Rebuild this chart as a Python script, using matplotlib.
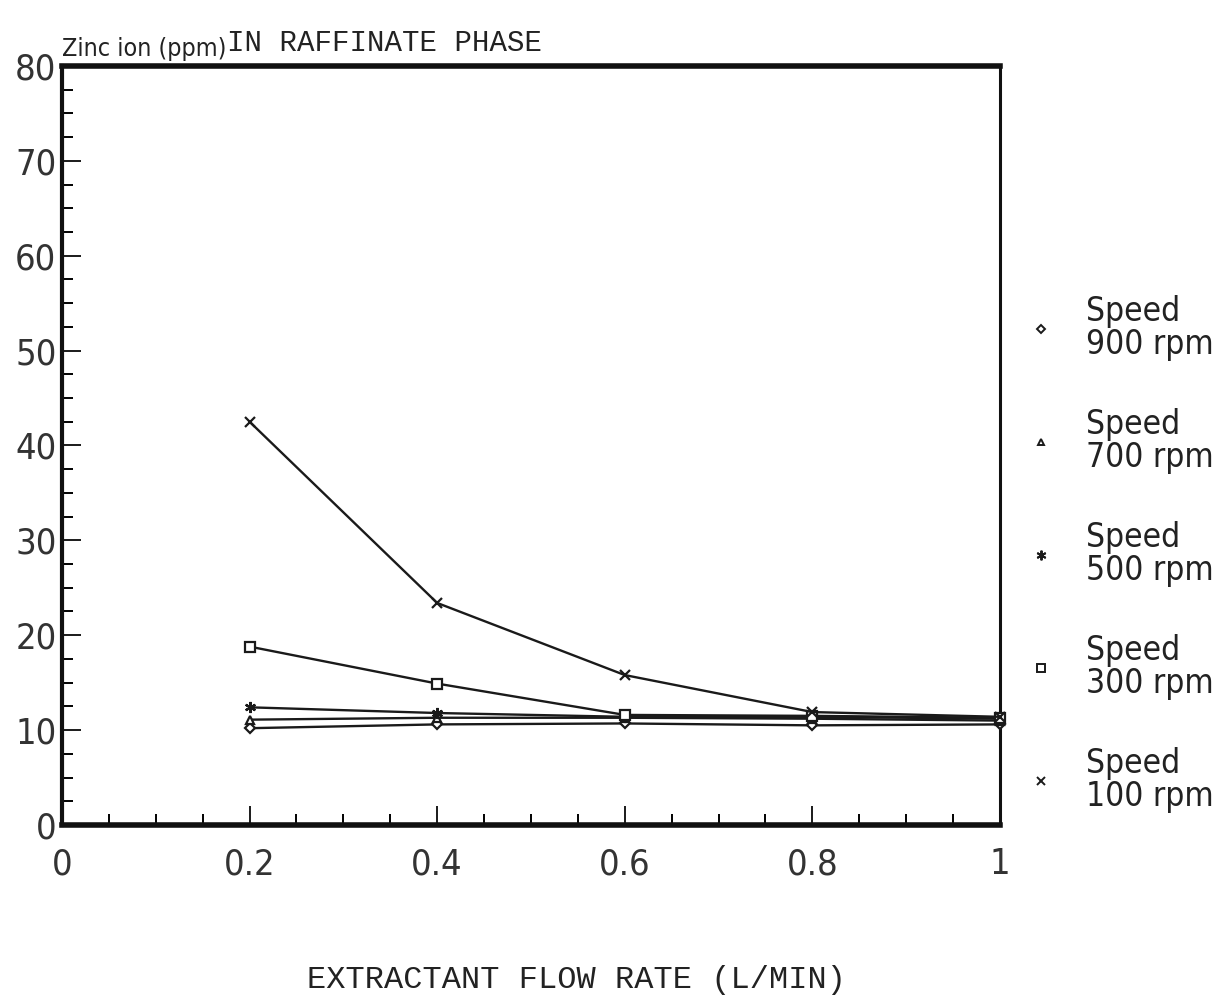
import matplotlib
matplotlib.use("Agg")
import matplotlib.pyplot as plt
from matplotlib.ticker import MultipleLocator, FixedLocator
from matplotlib.lines import Line2D

flow_rate = [0.2, 0.4, 0.6, 0.8, 1.0]
zinc_900 = [10.2, 10.6, 10.7, 10.5, 10.6]
zinc_700 = [11.1, 11.3, 11.3, 11.2, 11.0]
zinc_500 = [12.4, 11.8, 11.4, 11.4, 11.2]
zinc_300 = [18.8, 14.9, 11.6, 11.5, 11.3]
zinc_100 = [42.5, 23.4, 15.8, 11.9, 11.4]
labels = ["Speed\n900 rpm", "Speed\n700 rpm", "Speed\n500 rpm", "Speed\n300 rpm", "Speed\n100 rpm"]
x_ticks = [0, 0.2, 0.4, 0.6, 0.8, 1]
x_ticklabels = ["0", "0.2", "0.4", "0.6", "0.8", "1"]
y_ticks = [0, 10, 20, 30, 40, 50, 60, 70, 80]

plot_font = dict(family=["DejaVu Sans"], stretch="condensed", weight="light")
fig = plt.figure(figsize=(12.25, 9.99), dpi=100)
ax = fig.add_axes([0.0506, 0.1742, 0.7657, 0.7598])

series = [zinc_900, zinc_700, zinc_500, zinc_300, zinc_100]
markers = ["D", "^", (6, 2, 0), "s", "x"]
msizes = [5, 6, 8, 7, 7]
handles = []
for ys, m, ms, lab in zip(series, markers, msizes, labels):
    filled = m in [(6, 2, 0), "x"]
    ln, = ax.plot(flow_rate, ys, color="#1a1a1a", lw=1.7, marker=m, ms=ms,
                  mfc="#1a1a1a" if filled else "white", mec="#1a1a1a", mew=1.6,
                  clip_on=False, zorder=3, label=lab)
    handles.append(Line2D([], [], ls="none", marker=m, ms=ms - 1,
                          mfc="#1a1a1a" if filled else "white", mec="#1a1a1a", mew=1.4))

ax.set_xlim(0, 1)
ax.set_ylim(0, 80)
ax.xaxis.set_major_locator(FixedLocator(x_ticks))
ax.set_xticklabels(x_ticklabels)
ax.xaxis.set_minor_locator(MultipleLocator(0.05))
ax.yaxis.set_major_locator(FixedLocator(y_ticks))
ax.yaxis.set_minor_locator(MultipleLocator(2.5))
ax.tick_params(axis="both", which="major", direction="in", length=14, width=1.4,
               colors="#1a1a1a", labelsize=26, top=False, right=False)
ax.tick_params(axis="both", which="minor", direction="in", length=8, width=1.4,
               top=False, right=False)
ax.tick_params(axis="x", pad=16)
ax.tick_params(axis="y", pad=4)
for lab in ax.get_xticklabels() + ax.get_yticklabels():
    lab.set_fontfamily(["DejaVu Sans"])
    lab.set_fontstretch("condensed")
    lab.set_fontweight("light")
    lab.set_color("#333333")

for side, w in [("bottom", 4), ("top", 4), ("left", 3), ("right", 2.2)]:
    ax.spines[side].set_linewidth(w)
    ax.spines[side].set_color("#111111")

ax.text(0.0, 1.006, "Zinc ion (ppm)", transform=ax.transAxes, fontsize=18,
        ha="left", va="bottom", color="#222222", **plot_font)
ax.text(0.176, 1.012, "IN RAFFINATE PHASE", transform=ax.transAxes, fontsize=21,
        ha="left", va="bottom", color="#222222", family=["Liberation Mono"])

fig.text(0.471, 0.004, "EXTRACTANT FLOW RATE (L/MIN)", fontsize=23,
         ha="center", va="bottom", color="#222222", family=["Liberation Mono"])

leg = fig.legend(handles, labels, loc="upper left", bbox_to_anchor=(0.812, 0.735),
                 frameon=False, labelspacing=1.41, handletextpad=0.85,
                 handlelength=1.0, prop=dict(family=["DejaVu Sans"], stretch="condensed",
                                            weight="light", size=24))
for t in leg.get_texts():
    t.set_color("#222222")
    t.set_linespacing(1.0)

fig.savefig("out.png", dpi=100)
